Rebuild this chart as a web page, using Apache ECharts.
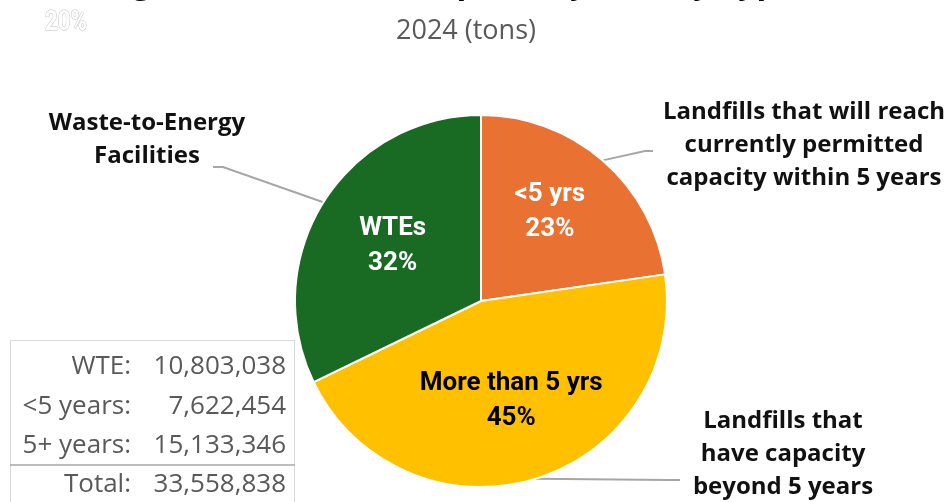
<!DOCTYPE html>
<html>
<head>
<meta charset="utf-8">
<script src="https://cdn.jsdelivr.net/npm/echarts@6.0.0/dist/echarts.min.js"></script>
<style>
html,body{margin:0;padding:0;background:#fff;}
#chart{width:950px;height:502px;}
</style>
</head>
<body>
<div id="chart"></div>
<script>
// ---- data (pie order, clockwise from 12 o'clock) ----
const categories = ['<5 years', '5+ years', 'WTE'];
const values = [7622454, 15133346, 10803038];
const sliceLabels = ['<5 yrs', 'More than 5 yrs', 'WTEs'];
const calloutLabels = [
  'Landfills that will reach\ncurrently permitted\ncapacity within 5 years',
  'Landfills that\nhave capacity\nbeyond 5 years',
  'Waste-to-Energy\nFacilities'
];
const tableOrder = [2, 0, 1];
const totalLabel = 'Total';
const subtitleText = '2024 (tons)';
const titleText = 'Tonnage Sent to Waste Disposal by Facility Type';
const stampText = '20%';

// ---- styles / layout ----
const colors = ['#E97132', '#FFC000', '#196B24'];
const innerTextColors = ['#FFFFFF', '#000000', '#FFFFFF'];
const innerShift = [[6, -16], [2, 8], [-7, -4]];
const calloutPos = [[804, 145], [783, 454], [147, 140]];
const leaderEnds = [[[645, 151], [653, 151]], [[670, 480], [680, 480]], [[223, 167], [213, 167]]];

function fmt(n) { return String(n).replace(/\B(?=(\d{3})+(?!\d))/g, ','); }

const total = values.reduce((a, b) => a + b, 0);

const chart = echarts.init(document.getElementById('chart'), null, { renderer: 'canvas' });

const graphic = [];
// clipped title line at the very top
graphic.push({ type: 'text', x: 33, y: -16, silent: true,
  style: { text: titleText, font: 'bold 32px "Open Sans"', fill: '#000', align: 'left', verticalAlign: 'middle' } });
graphic.push({ type: 'text', x: 45, y: 23, scaleX: 0.82, silent: true,
  style: { text: stampText, font: 'bold 27px Roboto', fill: '#FFFFFF', stroke: '#BFBFBF', lineWidth: 1, align: 'left', verticalAlign: 'middle' } });
graphic.push({ type: 'text', x: 466, y: 31, silent: true,
  style: { text: subtitleText, font: '27px "Open Sans"', fill: '#595959', align: 'center', verticalAlign: 'middle' } });
// table box
graphic.push({ type: 'rect', silent: true, shape: { x: 10.5, y: 340.5, width: 284, height: 200 },
  style: { fill: 'none', stroke: '#D9D9D9', lineWidth: 1 } });
graphic.push({ type: 'line', silent: true, shape: { x1: 10, y1: 465, x2: 295, y2: 465 },
  style: { stroke: '#A6A6A6', lineWidth: 1.5 } });
const rowY = [367, 406.5, 445.5, 484.5];
const rows = tableOrder.map(i => [categories[i] + ':', fmt(values[i])]);
rows.push([totalLabel + ':', fmt(total)]);
rows.forEach((r, k) => {
  graphic.push({ type: 'text', x: 131, y: rowY[k], silent: true,
    style: { text: r[0], font: '26px "Open Sans"', fill: '#595959', align: 'right', verticalAlign: 'middle' } });
  graphic.push({ type: 'text', x: 286, y: rowY[k], silent: true,
    style: { text: r[1], font: '26px "Open Sans"', fill: '#595959', align: 'right', verticalAlign: 'middle' } });
});

const pieCenter = [481, 301];
const pieRadius = 186;

chart.setOption({
  animation: false,
  backgroundColor: '#FFFFFF',
  graphic: graphic,
  series: [
    {
      type: 'pie',
      center: pieCenter,
      radius: pieRadius,
      startAngle: 90,
      clockwise: true,
      percentPrecision: 0,
      avoidLabelOverlap: false,
      silent: true,
      itemStyle: { borderColor: '#FFFFFF', borderWidth: 2 },
      label: {
        show: true, position: 'inside',
        formatter: p => sliceLabels[p.dataIndex] + '\n' + p.percent + '%',
        fontFamily: 'Roboto', fontWeight: 'bold', fontSize: 26, lineHeight: 35, align: 'center'
      },
      labelLine: { show: false },
      labelLayout: p => ({ dx: innerShift[p.dataIndex][0], dy: innerShift[p.dataIndex][1] }),
      data: values.map((v, i) => ({
        value: v, name: categories[i],
        itemStyle: { color: colors[i] },
        label: { color: innerTextColors[i] }
      }))
    },
    {
      type: 'pie',
      center: pieCenter,
      radius: pieRadius,
      startAngle: 90,
      clockwise: true,
      avoidLabelOverlap: false,
      silent: true,
      z: 1,
      itemStyle: { color: 'rgba(0,0,0,0)', borderWidth: 0 },
      label: {
        show: true, position: 'outside',
        formatter: p => calloutLabels[p.dataIndex],
        fontFamily: 'Open Sans', fontWeight: 'bold', fontSize: 24, lineHeight: 33,
        color: '#111111', align: 'center'
      },
      labelLine: { show: true, length: 10, length2: 10, lineStyle: { color: '#A6A6A6', width: 2 } },
      labelLayout: p => {
        const i = p.dataIndex;
        const start = p.labelLinePoints ? p.labelLinePoints[0] : null;
        const out = { x: calloutPos[i][0], y: calloutPos[i][1], align: 'center', verticalAlign: 'middle' };
        if (start) out.labelLinePoints = [start].concat(leaderEnds[i]);
        return out;
      },
      data: values.map((v, i) => ({ value: v, name: categories[i] }))
    }
  ]
});
</script>
</body>
</html>
